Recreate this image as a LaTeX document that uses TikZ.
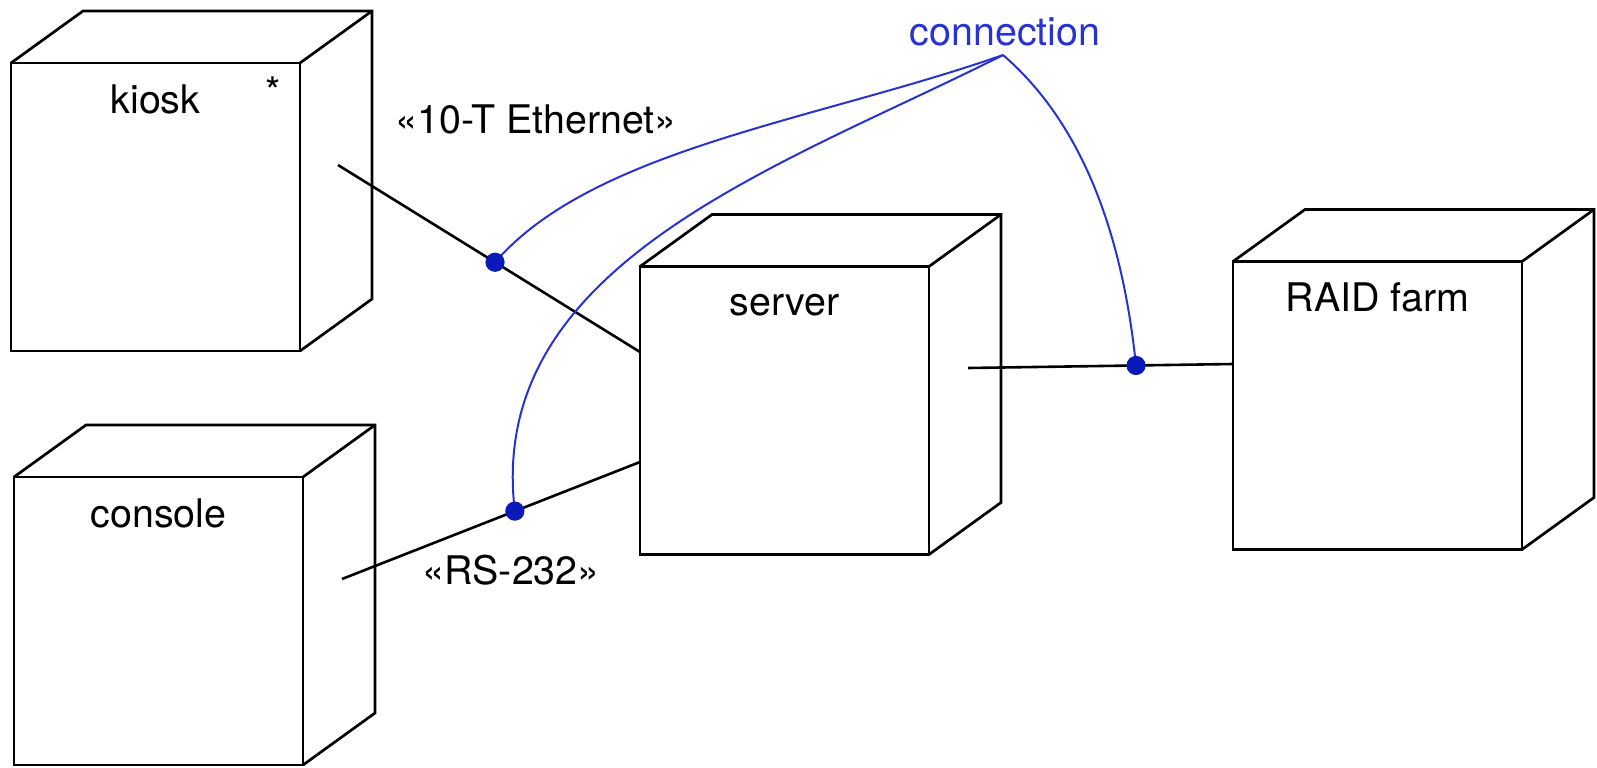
\documentclass[tikz,border=0pt]{standalone}
\usepackage{fontspec}
\setmainfont{TeX Gyre Heros}
\usetikzlibrary{calc}

\definecolor{connblue}{RGB}{40,50,210}
\definecolor{dotblue}{RGB}{10,25,185}

\tikzset{
  cubenode/.style={draw, line width=1.35pt, minimum width=144.5pt, minimum height=144pt,
                   inner sep=0pt, outer sep=0pt},
  cubeedge/.style={line width=1.35pt, line join=miter},
  caption/.style={anchor=base, inner sep=0pt, font=\fontsize{19.7}{23}\selectfont},
  wire/.style={line width=1.3pt},
  tagline/.style={connblue, line width=1pt},
  tagdot/.style={fill=dotblue},
}

% top and right faces of a node drawn as a 3-D box
\newcommand\boxdepth[1]{%
  \draw[cubeedge] (#1.north west) -- ++(72,-52) -- ($(#1.north east)+(72,-52)$)
        -- ($(#1.south east)+(72,-52)$) -- (#1.south east);
  \draw[cubeedge] (#1.north east) -- ++(72,-52);
}

\begin{document}
\begin{tikzpicture}[x=0.5pt, y=-0.5pt]
  \useasboundingbox (0,0) rectangle (1597,767);

  % nodes (front faces)
  \node[cubenode] (kiosk)   at (155.5,207)   {};
  \node[cubenode] (console) at (158.5,621)   {};
  \node[cubenode] (server)  at (784.5,410.5) {};
  \node[cubenode] (raid)    at (1377.5,405.5) {};
  \boxdepth{kiosk}
  \boxdepth{console}
  \boxdepth{server}
  \boxdepth{raid}

  % node names
  \node[caption] (kioskname)   at ($(kiosk.north)+(0,50)$)   {kiosk};
  \node[caption] (kioskmult)   at ($(kiosk.north east)+(-27,42)$) {*};
  \node[caption] (consolename) at ($(console.north)+(0,50)$) {console};
  \node[caption] (servername)  at ($(server.north)+(0,49)$)  {server};
  \node[caption] (raidname)    at ($(raid.north)+(0,50)$)    {RAID farm};

  % communication links
  \draw[wire] ($(kiosk.east)+(38,-42)$) -- coordinate[pos=0.52] (d1) ($(server.west)+(0,-58.5)$);
  \draw[wire] ($(console.east)+(39,-42)$) -- coordinate[pos=0.58] (d2) ($(server.west)+(0,51.5)$);
  \draw[wire] ($(server.east)+(39,-42.5)$) -- coordinate[pos=0.634] (d3) ($(raid.west)+(0,-41.5)$);

  % link stereotypes
  \node[caption] (ether) at (536,133) {«10-T Ethernet»};
  \node[caption] (rs)    at (511,584) {«RS-232»};

  % note pointing at the links
  \node[caption, text=connblue] (conn) at (1005,45) {connection};
  \coordinate (apex) at ($(conn.base)+(-2,10)$);
  \draw[tagline] (apex) .. controls ($(apex)+(-189,66)$) and ($(d1)+(98,-113)$) .. (d1);
  \draw[tagline] (apex) .. controls ($(apex)+(-222,112)$) and ($(d2)+(-30,-248)$) .. (d2);
  \draw[tagline] (apex) .. controls ($(apex)+(87,75)$) and ($(d3)+(-12,-115)$) .. (d3);
  \foreach \d in {d1,d2,d3}
    \fill[tagdot] (\d) circle[radius=4.8pt];
\end{tikzpicture}
\end{document}
